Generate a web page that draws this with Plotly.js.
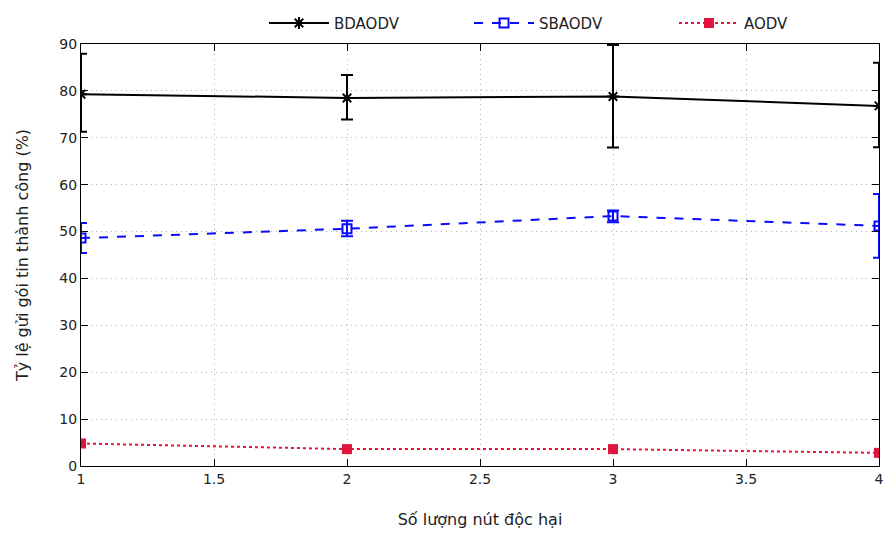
<!DOCTYPE html>
<html><head><meta charset="utf-8">
<script src="https://cdn.plot.ly/plotly-3.0.1.min.js"></script>
<style>body{margin:0;background:#fff}#c{width:886px;height:535px}</style>
</head><body><div id="c"></div>
<script>
const xs = [1, 2, 3, 4];
const bdaodv = [79.3, 78.5, 78.8, 76.8];
const bdaodvUp = [87.9, 83.4, 89.8, 86.0];
const bdaodvLo = [71.3, 73.9, 67.9, 68.0];
const sbaodv = [48.6, 50.6, 53.3, 51.2];
const sbaodvUp = [51.8, 52.3, 54.5, 58.0];
const sbaodvLo = [45.4, 49.0, 52.0, 44.4];
const aodv = [4.8, 3.6, 3.6, 2.8];
const xTicks = [1, 1.5, 2, 2.5, 3, 3.5, 4];
const yTicks = [0, 10, 20, 30, 40, 50, 60, 70, 80, 90];

function errs(v, up, lo){
  return {type:'data', symmetric:false,
    array: v.map((d,i)=>up[i]-d), arrayminus: v.map((d,i)=>d-lo[i])};
}
const traces = [
  {x: xs, y: bdaodv, name: 'BDAODV', mode: 'lines+markers',
   line:{color:'#000000', width:2},
   marker:{symbol:'asterisk-open', size:10, color:'#000', line:{color:'#000', width:2}},
   error_y: Object.assign(errs(bdaodv, bdaodvUp, bdaodvLo), {color:'#000', thickness:2, width:6})},
  {x: xs, y: sbaodv, name: 'SBAODV', mode: 'lines+markers',
   line:{color:'#0a0aff', width:2, dash:'dash'},
   marker:{symbol:'square-open', size:9, color:'#0a0aff', line:{color:'#0a0aff', width:2}},
   error_y: Object.assign(errs(sbaodv, sbaodvUp, sbaodvLo), {color:'#0a0aff', thickness:2, width:6})},
  {x: xs, y: aodv, name: 'AODV', mode: 'lines+markers',
   line:{color:'#e0143c', width:2, dash:'dot'},
   marker:{symbol:'square', size:10, color:'#e0143c'}}
];
const font = {family:'DejaVu Sans, Verdana, sans-serif', size:14, color:'#222'};
const titleFont = {family:'DejaVu Sans, Verdana, sans-serif', size:16, color:'#222'};
const layout = {
  width:886, height:535,
  margin:{l:81, r:7, t:42, b:69},
  paper_bgcolor:'#fff', plot_bgcolor:'#fff',
  font: font,
  showlegend:true,
  legend:{orientation:'h', x:1, xanchor:'right', y:1.01, yanchor:'bottom',
    itemwidth:60, entrywidth:130,
    font:{family:'DejaVu Sans, Verdana, sans-serif', size:15, color:'#222'}, bgcolor:'rgba(0,0,0,0)'},
  xaxis:{range:[1,4], tickvals:xTicks, ticktext:xTicks.map(String),
    showline:true, linecolor:'#000', linewidth:1, mirror:'ticks',
    ticks:'inside', ticklen:7, tickcolor:'#000',
    showgrid:true, gridcolor:'#b0b0b0', griddash:'1px,4px', gridwidth:1, zeroline:false,
    title:{text:'Số lượng nút độc hại', font:titleFont, standoff:28}},
  yaxis:{range:[0,90], tickvals:yTicks, ticktext:yTicks.map(String),
    showline:true, linecolor:'#000', linewidth:1, mirror:'ticks',
    ticks:'inside', ticklen:7, tickcolor:'#000',
    showgrid:true, gridcolor:'#b0b0b0', griddash:'1px,4px', gridwidth:1, zeroline:false,
    title:{text:'Tỷ lệ gửi gói tin thành công (%)', font:titleFont, standoff:26}}
};
Plotly.newPlot('c', traces, layout, {displayModeBar:false});
</script></body></html>
